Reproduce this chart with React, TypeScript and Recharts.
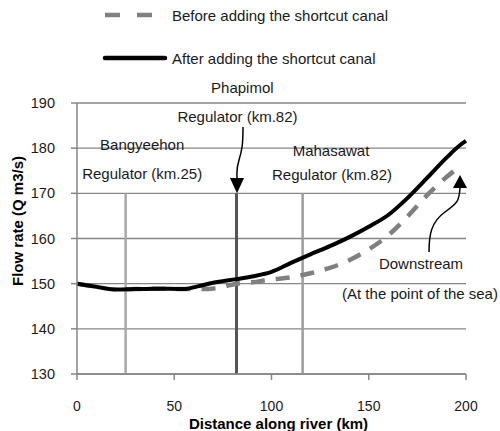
import React from "react";
import {
  LineChart,
  Line,
  XAxis,
  YAxis,
  CartesianGrid,
  ReferenceLine,
  Customized,
} from "recharts";

// Distance along river (km)
const afterKm = [0, 10, 20, 30, 40, 55, 62, 70, 82, 90, 100, 110, 120, 130, 140, 150, 160, 170, 180, 190, 197, 200];
// Flow rate after adding shortcut canal (Q m3/s)
const afterQ = [150, 149.3, 148.7, 148.8, 148.9, 148.8, 149.4, 150.2, 151, 151.6, 152.6, 154.6, 156.5, 158.3, 160.3, 162.6, 165.2, 169.0, 173.4, 177.9, 180.7, 181.6];

const beforeKm = [0, 10, 20, 30, 40, 55, 65, 73, 82, 90, 99, 110, 120, 130, 140, 150, 160, 170, 180, 190, 197];
// Flow rate before adding shortcut canal (Q m3/s)
const beforeQ = [150, 149.3, 148.7, 148.8, 148.9, 148.8, 148.8, 149.1, 150, 150.3, 150.9, 151.4, 152.3, 153.5, 155.2, 157.6, 160.7, 164.9, 169.6, 173.6, 176];

const xTicks = [0, 50, 100, 150, 200];
const yTicks = [130, 140, 150, 160, 170, 180, 190];

const regulatorKm = [25, 82, 116];
const regulatorColors = ["#a8a8a8", "#555555", "#9c9c9c"];
const regulatorWidths = [2.5, 3, 2.5];

const afterData = afterKm.map((x, i) => ({ x, q: afterQ[i] }));
const beforeData = beforeKm.map((x, i) => ({ x, q: beforeQ[i] }));

const FONT = "'Liberation Sans', Arial, sans-serif";

const W = 500;
const H = 431;
const PL = 77;
const PR = 466;
const PT = 103;
const PB = 374;
const sx = (km: number) => PL + (km * (PR - PL)) / 200;
const sy = (v: number) => PT + ((190 - v) * (PB - PT)) / 60;

const Overlay = () => {
  const t = { fontFamily: FONT, fontSize: 15, fill: "#1a1a1a" } as const;
  return (
    <g>
      {/* legend */}
      <line x1={105} y1={15} x2={153} y2={15} stroke="#808080" strokeWidth={4.5} strokeDasharray="15 17" />
      <text x={172} y={15} dominantBaseline="central" {...t}>Before adding the shortcut canal</text>
      <line x1={105} y1={58} x2={165} y2={58} stroke="#000" strokeWidth={4.5} strokeLinecap="round" />
      <text x={172} y={58} dominantBaseline="central" {...t}>After adding the shortcut canal</text>

      {/* annotations */}
      <text x={sx(85)} y={87} textAnchor="middle" dominantBaseline="central" {...t}>Phapimol</text>
      <text x={sx(82.5)} y={116} textAnchor="middle" dominantBaseline="central" {...t}>Regulator (km.82)</text>
      <text x={sx(33.5)} y={144} textAnchor="middle" dominantBaseline="central" {...t}>Bangyeehon</text>
      <text x={sx(33.5)} y={173} textAnchor="middle" dominantBaseline="central" {...t}>Regulator (km.25)</text>
      <text x={331} y={150} textAnchor="middle" dominantBaseline="central" {...t}>Mahasawat</text>
      <text x={332} y={174} textAnchor="middle" dominantBaseline="central" {...t}>Regulator (km.82)</text>
      <text x={421} y={263} textAnchor="middle" dominantBaseline="central" {...t}>Downstream</text>
      <text x={420} y={293} textAnchor="middle" dominantBaseline="central" {...t}>(At the point of the sea)</text>

      {/* arrows */}
      <path d="M243,127 C243,145 242,150 239,160 S237,170 237,179" fill="none" stroke="#000" strokeWidth={1.5} />
      <polygon points={`237,${sy(170)} 230,178 244,178`} fill="#000" />
      <path d="M429,252 C429,235 431,222 445,212 S459,200 460,188" fill="none" stroke="#000" strokeWidth={1.5} />
      <polygon points="460,175 453,188 467,188" fill="#000" />

      {/* axis titles */}
      <text
        x={17}
        y={221}
        transform="rotate(-90 17 221)"
        textAnchor="middle"
        dominantBaseline="central"
        fontFamily={FONT}
        fontSize={15}
        fontWeight="bold"
        fill="#000"
      >
        Flow rate (Q m3/s)
      </text>
      <text
        x={278.5}
        y={423.5}
        textAnchor="middle"
        dominantBaseline="central"
        fontFamily={FONT}
        fontSize={15}
        fontWeight="bold"
        fill="#000"
      >
        Distance along river (km)
      </text>
    </g>
  );
};

export default function App() {
  return (
    <div style={{ width: W, height: H }}>
      <style>{`body{margin:0;}`}</style>
      <LineChart
        width={W}
        height={H}
        margin={{ top: PT, right: W - PR, bottom: 0, left: 0 }}
      >
        <CartesianGrid horizontal vertical={false} stroke="#868686" strokeWidth={1.3} />
        <XAxis
          type="number"
          dataKey="x"
          domain={[0, 200]}
          ticks={xTicks}
          height={H - PB}
          tickSize={6}
          tickMargin={21}
          stroke="#868686"
          axisLine={{ stroke: "#868686", strokeWidth: 1.5 }}
          tickLine={{ stroke: "#868686", strokeWidth: 1.5 }}
          tick={{ fontFamily: FONT, fontSize: 14, fill: "#1a1a1a" }}
          allowDuplicatedCategory={false}
        />
        <YAxis
          type="number"
          domain={[130, 190]}
          ticks={yTicks}
          width={PL}
          tickSize={6}
          tickMargin={16}
          axisLine={{ stroke: "#868686", strokeWidth: 1.5 }}
          tickLine={{ stroke: "#868686", strokeWidth: 1.5 }}
          tick={{ fontFamily: FONT, fontSize: 14.5, fill: "#1a1a1a" }}
        />
        {regulatorKm.map((km, i) => (
          <ReferenceLine
            key={km}
            segment={[
              { x: km, y: 130 },
              { x: km, y: 170 },
            ]}
            stroke={regulatorColors[i]}
            strokeWidth={regulatorWidths[i]}
          />
        ))}
        <Line
          data={beforeData}
          dataKey="q"
          type="monotone"
          stroke="#808080"
          strokeWidth={4.5}
          strokeDasharray="14 11"
          dot={false}
          isAnimationActive={false}
        />
        <Line
          data={afterData}
          dataKey="q"
          type="monotone"
          stroke="#000000"
          strokeWidth={4}
          dot={false}
          isAnimationActive={false}
        />
        <Customized component={Overlay} />
      </LineChart>
    </div>
  );
}
